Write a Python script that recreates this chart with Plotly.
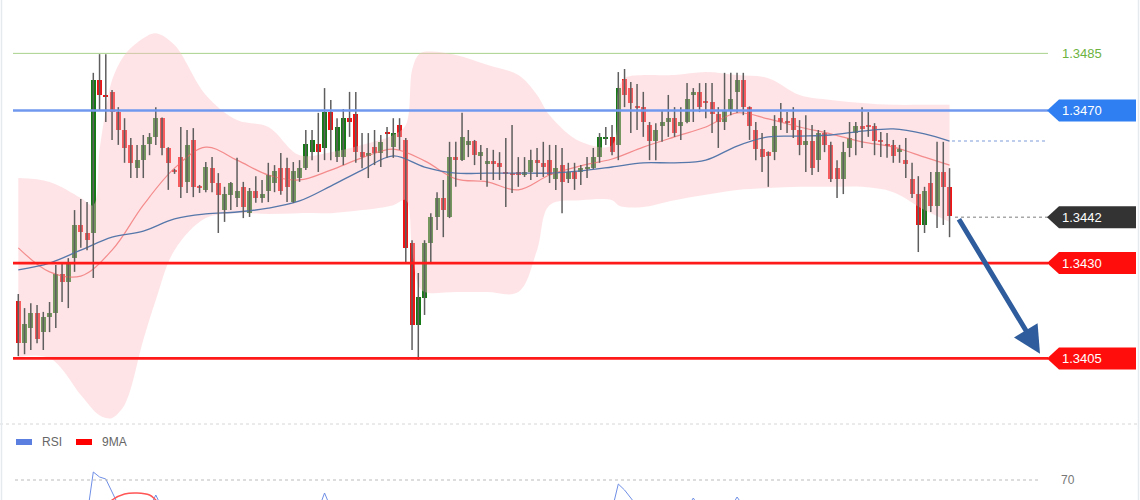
import plotly.graph_objects as go

# ---------------- data ----------------
opens = [1.34200,1.34090,1.34130,1.34169,1.34119,1.34159,1.34169,1.34271,1.34250,1.34313,
         1.34400,1.34379,1.34379,1.34780,1.34741,1.34749,1.34696,1.34649,1.34610,1.34549,
         1.34570,1.34612,1.34631,1.34680,1.34602,1.34542,1.34578,1.34513,1.34623,1.34500,
         1.34492,1.34549,1.34510,1.34439,1.34479,1.34471,1.34500,1.34431,1.34489,1.34471,
         1.34489,1.34510,1.34549,1.34549,1.34460,1.34523,1.34549,1.34591,1.34612,1.34602,
         1.34696,1.34578,1.34578,1.34680,1.34691,1.34591,1.34581,1.34604,1.34589,1.34641,
         1.34604,1.34662,1.34623,1.34353,1.34138,1.34208,1.34353,1.34421,1.34471,1.34421,
         1.34578,1.34570,1.34610,1.34620,1.34581,1.34560,1.34568,1.34563,1.34536,1.34534,
         1.34539,1.34531,1.34539,1.34570,1.34563,1.34570,1.34521,1.34557,1.34521,1.34539,
         1.34539,1.34547,1.34549,1.34578,1.34628,1.34631,1.34610,1.34783,1.34759,1.34709,
         1.34709,1.34662,1.34620,1.34659,1.34670,1.34680,1.34659,1.34670,1.34741,1.34749,
         1.34722,1.34722,1.34691,1.34670,1.34701,1.34749,1.34780,1.34709,1.34649,1.34599,
         1.34591,1.34591,1.34680,1.34670,1.34680,1.34649,1.34610,1.34620,1.34570,1.34641,
         1.34610,1.34549,1.34521,1.34602,1.34641,1.34659,1.34659,1.34659,1.34620,1.34610,
         1.34610,1.34591,1.34570,1.34521,1.34481,1.34400,1.34510,1.34450,1.34539,1.34500]
highs = [1.34219,1.34182,1.34195,1.34190,1.34172,1.34198,1.34295,1.34300,1.34313,1.34439,
         1.34468,1.34460,1.34799,1.34848,1.34848,1.34754,1.34709,1.34680,1.34628,1.34610,
         1.34636,1.34641,1.34709,1.34682,1.34604,1.34547,1.34657,1.34649,1.34654,1.34505,
         1.34565,1.34578,1.34536,1.34500,1.34513,1.34576,1.34513,1.34497,1.34528,1.34518,
         1.34563,1.34557,1.34589,1.34576,1.34565,1.34570,1.34649,1.34649,1.34694,1.34759,
         1.34728,1.34680,1.34704,1.34749,1.34749,1.34641,1.34641,1.34649,1.34636,1.34657,
         1.34680,1.34680,1.34628,1.34360,1.34274,1.34360,1.34431,1.34486,1.34518,1.34618,
         1.34618,1.34694,1.34649,1.34623,1.34610,1.34602,1.34597,1.34591,1.34628,1.34662,
         1.34578,1.34578,1.34597,1.34602,1.34618,1.34610,1.34610,1.34602,1.34563,1.34563,
         1.34557,1.34578,1.34602,1.34641,1.34657,1.34662,1.34801,1.34809,1.34775,1.34770,
         1.34749,1.34670,1.34667,1.34701,1.34741,1.34709,1.34709,1.34772,1.34759,1.34772,
         1.34772,1.34772,1.34709,1.34799,1.34799,1.34799,1.34799,1.34711,1.34670,1.34641,
         1.34593,1.34688,1.34720,1.34696,1.34709,1.34675,1.34688,1.34662,1.34649,1.34649,
         1.34618,1.34570,1.34618,1.34670,1.34670,1.34709,1.34696,1.34667,1.34644,1.34641,
         1.34623,1.34610,1.34628,1.34563,1.34528,1.34500,1.34539,1.34618,1.34618,1.34549]
lows = [1.34056,1.34061,1.34072,1.34090,1.34072,1.34119,1.34130,1.34198,1.34182,1.34277,
        1.34340,1.34334,1.34261,1.34701,1.34670,1.34623,1.34610,1.34563,1.34523,1.34523,
        1.34523,1.34583,1.34610,1.34583,1.34492,1.34534,1.34471,1.34484,1.34473,1.34484,
        1.34486,1.34486,1.34379,1.34408,1.34439,1.34447,1.34418,1.34421,1.34458,1.34458,
        1.34460,1.34486,1.34479,1.34460,1.34458,1.34513,1.34544,1.34570,1.34539,1.34570,
        1.34570,1.34565,1.34557,1.34631,1.34563,1.34549,1.34523,1.34557,1.34552,1.34576,
        1.34576,1.34597,1.34303,1.34072,1.34046,1.34164,1.34300,1.34387,1.34368,1.34418,
        1.34500,1.34568,1.34578,1.34557,1.34518,1.34500,1.34518,1.34518,1.34447,1.34484,
        1.34500,1.34526,1.34518,1.34526,1.34526,1.34510,1.34492,1.34431,1.34510,1.34492,
        1.34505,1.34523,1.34547,1.34563,1.34610,1.34583,1.34570,1.34709,1.34641,1.34649,
        1.34631,1.34570,1.34570,1.34618,1.34631,1.34631,1.34623,1.34667,1.34670,1.34696,
        1.34680,1.34641,1.34602,1.34649,1.34688,1.34694,1.34688,1.34623,1.34570,1.34539,
        1.34500,1.34570,1.34649,1.34641,1.34628,1.34583,1.34539,1.34531,1.34539,1.34591,
        1.34513,1.34471,1.34481,1.34578,1.34583,1.34602,1.34631,1.34583,1.34578,1.34576,
        1.34563,1.34563,1.34523,1.34471,1.34329,1.34379,1.34434,1.34392,1.34400,1.34368]
closes = [1.34090,1.34140,1.34169,1.34101,1.34159,1.34169,1.34271,1.34250,1.34300,1.34400,
          1.34381,1.34360,1.34780,1.34741,1.34738,1.34696,1.34649,1.34602,1.34563,1.34570,
          1.34610,1.34631,1.34680,1.34602,1.34563,1.34539,1.34500,1.34610,1.34500,1.34497,
          1.34552,1.34510,1.34479,1.34481,1.34510,1.34489,1.34447,1.34489,1.34471,1.34481,
          1.34531,1.34542,1.34489,1.34500,1.34542,1.34549,1.34612,1.34623,1.34591,1.34696,
          1.34649,1.34657,1.34680,1.34670,1.34591,1.34578,1.34589,1.34589,1.34618,1.34639,
          1.34641,1.34631,1.34340,1.34138,1.34211,1.34353,1.34421,1.34471,1.34439,1.34578,
          1.34570,1.34631,1.34620,1.34583,1.34591,1.34568,1.34560,1.34552,1.34535,1.34533,
          1.34531,1.34539,1.34570,1.34563,1.34552,1.34531,1.34549,1.34513,1.34539,1.34521,
          1.34549,1.34549,1.34578,1.34631,1.34631,1.34591,1.34759,1.34741,1.34720,1.34708,
          1.34670,1.34620,1.34649,1.34670,1.34680,1.34641,1.34670,1.34730,1.34749,1.34709,
          1.34721,1.34691,1.34670,1.34701,1.34730,1.34780,1.34709,1.34659,1.34599,1.34578,
          1.34581,1.34659,1.34670,1.34669,1.34649,1.34610,1.34620,1.34549,1.34641,1.34610,
          1.34521,1.34521,1.34591,1.34628,1.34659,1.34652,1.34658,1.34620,1.34619,1.34608,
          1.34581,1.34599,1.34560,1.34481,1.34400,1.34489,1.34450,1.34539,1.34500,1.34423]

# Bollinger band (sampled at candle indices)
band_idx = [0, 5, 10, 12, 13, 14, 15, 17, 20, 22, 25, 30, 35, 40, 45, 50, 55, 60, 62, 63, 64,
            65, 70, 75, 80, 83, 85, 90, 95, 96, 97, 100, 105, 110, 115, 120, 125, 130, 135,
            140, 145, 149]
band_upper = [1.34523, 1.34513, 1.34471, 1.34452, 1.34597, 1.34701, 1.34780, 1.34846, 1.34890,
              1.34903, 1.34872, 1.34741, 1.34675, 1.34657, 1.34583, 1.34591, 1.34610, 1.34636,
              1.34662, 1.34806, 1.34846, 1.34854, 1.34846, 1.34820, 1.34793, 1.34741, 1.34688,
              1.34618, 1.34610, 1.34754, 1.34785, 1.34793, 1.34793, 1.34801, 1.34793, 1.34785,
              1.34741, 1.34728, 1.34720, 1.34715, 1.34715, 1.34715]
band_lower = [1.34054, 1.34051, 1.33954, 1.33915, 1.33901, 1.33894, 1.33894, 1.33928, 1.34098,
              1.34203, 1.34334, 1.34418, 1.34431, 1.34429, 1.34431, 1.34431, 1.34439, 1.34452,
              1.34465, 1.34334, 1.34242, 1.34224, 1.34224, 1.34224, 1.34224, 1.34334, 1.34452,
              1.34465, 1.34465, 1.34452, 1.34447, 1.34447, 1.34465, 1.34479, 1.34492, 1.34497,
              1.34500, 1.34500, 1.34500, 1.34486, 1.34439, 1.34408]

ma_idx = [0, 5, 10, 15, 20, 25, 30, 35, 40, 45, 50, 55, 60, 65, 70, 75, 80, 85, 90, 95, 100,
          105, 110, 115, 120, 125, 130, 135, 140, 145, 149]
ma_red = [1.34340, 1.34277, 1.34266, 1.34334, 1.34452, 1.34549, 1.34604, 1.34570, 1.34531,
          1.34518, 1.34544, 1.34576, 1.34599, 1.34568, 1.34521, 1.34513, 1.34492, 1.34531,
          1.34555, 1.34573, 1.34604, 1.34631, 1.34657, 1.34694, 1.34678, 1.34657, 1.34639,
          1.34618, 1.34604, 1.34578, 1.34557]
ma_blue = [1.34282, 1.34300, 1.34334, 1.34368, 1.34384, 1.34416, 1.34429, 1.34434, 1.34444,
           1.34463, 1.34502, 1.34544, 1.34581, 1.34552, 1.34536, 1.34536, 1.34536, 1.34536,
           1.34542, 1.34552, 1.34563, 1.34563, 1.34570, 1.34607, 1.34631, 1.34633, 1.34636,
           1.34646, 1.34652, 1.34639, 1.34620]

levels = [1.3485, 1.3470, 1.3442, 1.3430, 1.3405]
level_labels = ["1.3485", "1.3470", "1.3442", "1.3430", "1.3405"]

# RSI panel (only the parts that rise into view)
rsi_idx = [11, 12, 13, 14, 15, 16, None, 21, 22, 23, None, 48, 49, 50, None,
           95, 96, 97, 98, 99, None, 107, 108, 109, None, 114, 115, 116]
rsi_val = [52, 74, 71.5, 70.5, 64, 57.5, None, 56, 62.5, 56, None, 55, 63.5, 56, None,
           55, 68, 65, 61.5, 57, None, 56, 61, 56, None, 56, 61.5, 57]
ma9_idx = [14, 15, 17, 19, 21, 22, 23]
ma9_val = [57, 60, 63, 63.5, 62.5, 60, 57]
rsi_level = 70

# ---------------- figure ----------------
W, H = 1140, 500
PX0, DX = 18.3, 6.25              # pixel of first candle, candle spacing
xr = [(0 - PX0) / DX, (W - PX0) / DX]
y_top, y_bot = 1.34990, 1.33878
split = 1 - 424 / H

def px(x):
    return x / W

def pyp(y):
    return 1 - y / H

idx = list(range(len(opens)))
GREEN, RED = "#167a16", "#f21414"

fig = go.Figure()

# Bollinger band
fig.add_trace(go.Scatter(x=band_idx, y=band_upper, mode="lines", line=dict(width=0, shape="spline"),
                         hoverinfo="skip", showlegend=False))
fig.add_trace(go.Scatter(x=band_idx, y=band_lower, mode="lines", line=dict(width=0, shape="spline"),
                         fill="tonexty", fillcolor="rgba(252,190,198,0.42)",
                         hoverinfo="skip", showlegend=False))
# moving averages
fig.add_trace(go.Scatter(x=ma_idx, y=ma_red, mode="lines",
                         line=dict(color="rgba(240,110,110,0.75)", width=1.2, shape="spline"),
                         showlegend=False))
fig.add_trace(go.Scatter(x=ma_idx, y=ma_blue, mode="lines",
                         line=dict(color="#5577aa", width=1.3, shape="spline"),
                         showlegend=False))

# wicks
wx, wy = [], []
for i in idx:
    wx += [i, i, None]
    wy += [lows[i], highs[i], None]
fig.add_trace(go.Scatter(x=wx, y=wy, mode="lines", line=dict(color="#5e5e5e", width=1.5),
                         hoverinfo="skip", showlegend=False))
# bodies
bases = [min(o, c) for o, c in zip(opens, closes)]
heights = [max(abs(c - o), 0.00003) for o, c in zip(opens, closes)]
colors = [GREEN if c >= o else RED for o, c in zip(opens, closes)]
fig.add_trace(go.Bar(x=idx, y=heights, base=bases, width=0.8, marker=dict(color=colors, line=dict(width=0)),
                     showlegend=False))

# RSI panel
fig.add_trace(go.Scatter(x=rsi_idx, y=rsi_val, mode="lines", line=dict(color="#6f8fe6", width=1),
                         xaxis="x2", yaxis="y2", showlegend=False, connectgaps=False))
fig.add_trace(go.Scatter(x=ma9_idx, y=ma9_val, mode="lines", line=dict(color="#ff5555", width=1.4, shape="spline"),
                         xaxis="x2", yaxis="y2", showlegend=False))

shapes = []
x_start, x_end = px(13), px(1048)
line_styles = {
    1.3485: dict(color="#a9d18e", width=1),
    1.3470: dict(color="#7098ee", width=2.5),
    1.3430: dict(color="#ff1a1a", width=2.8),
    1.3405: dict(color="#ff1a1a", width=2.8),
}
for lv, st in line_styles.items():
    shapes.append(dict(type="line", xref="paper", yref="y", x0=x_start, x1=x_end, y0=lv, y1=lv,
                       line=st, layer="below" if lv == 1.3485 else "above"))
# dotted guides
shapes.append(dict(type="line", xref="paper", yref="y", x0=px(955), x1=x_end, y0=levels[2], y1=levels[2],
                   line=dict(color="#a8a8a8", width=1.5, dash="dot")))
shapes.append(dict(type="line", xref="paper", yref="y", x0=px(952), x1=x_end, y0=ma_blue[-1], y1=ma_blue[-1],
                   line=dict(color="#a9bde6", width=1.5, dash="dot")))
# label boxes
hh = 11 / ((424) / (y_top - y_bot))
box_cols = {1.3470: "#2f7ff2", 1.3442: "#333333", 1.3430: "#ff0d0d", 1.3405: "#ff0d0d"}
for lv, col in box_cols.items():
    a, b, c = px(1047), px(1059), px(1136)
    path = (f"M {a},{lv} L {b},{lv + hh} L {c},{lv + hh} L {c},{lv - hh} L {b},{lv - hh} Z")
    shapes.append(dict(type="path", xref="paper", yref="y", path=path, fillcolor=col, line=dict(width=0)))
# panel separator and frame
shapes.append(dict(type="line", xref="paper", yref="paper", x0=0, x1=1, y0=split, y1=split,
                   line=dict(color="#d6d6d6", width=1, dash="dot")))
shapes.append(dict(type="line", xref="paper", yref="y2", x0=px(15), x1=px(1038), y0=rsi_level, y1=rsi_level,
                   line=dict(color="#bbbbbb", width=1, dash="dot")))
shapes.append(dict(type="line", xref="paper", yref="paper", x0=px(1.5), x1=px(1.5), y0=0, y1=1,
                   line=dict(color="#e4eaee", width=1.5)))
shapes.append(dict(type="line", xref="paper", yref="paper", x0=px(1138.5), x1=px(1138.5), y0=0, y1=1,
                   line=dict(color="#e4eaee", width=1.5)))
# legend markers
shapes.append(dict(type="rect", xref="paper", yref="paper", x0=px(16), x1=px(32), y0=pyp(445), y1=pyp(439),
                   fillcolor="#5b7fe0", line=dict(width=0)))
shapes.append(dict(type="rect", xref="paper", yref="paper", x0=px(76), x1=px(92), y0=pyp(445), y1=pyp(439),
                   fillcolor="#ff0000", line=dict(width=0)))

FONT = "Liberation Sans, Arial, sans-serif"
ann = []
label_cols = {1.3485: "#6cb33f", 1.3470: "white", 1.3442: "white", 1.3430: "white", 1.3405: "white"}
for lv, txt in zip(levels, level_labels):
    ann.append(dict(x=px(1082), y=lv, xref="paper", yref="y", text=txt, showarrow=False,
                    font=dict(family=FONT, size=13, color=label_cols[lv]), xanchor="center", yanchor="middle"))
ann.append(dict(x=px(1068), y=rsi_level, xref="paper", yref="y2", text=str(rsi_level), showarrow=False,
                font=dict(family=FONT, size=12, color="#777777"), xanchor="center", yanchor="middle"))
ann.append(dict(x=px(40), y=pyp(442), xref="paper", yref="paper", text="RSI", showarrow=False,
                font=dict(family=FONT, size=12, color="#666666"), xanchor="left", yanchor="middle"))
ann.append(dict(x=px(100), y=pyp(442), xref="paper", yref="paper", text="9MA", showarrow=False,
                font=dict(family=FONT, size=12, color="#666666"), xanchor="left", yanchor="middle"))
# forecast arrow
ann.append(dict(x=(1040 - PX0) / DX, y=1.34062, xref="x", yref="y",
                ax=(958 - PX0) / DX, ay=levels[2] - 0.00001, axref="x", ayref="y",
                showarrow=True, arrowhead=2, arrowsize=1.1, arrowwidth=5, arrowcolor="#2e5c9c", text=""))

fig.update_layout(
    width=W, height=H, margin=dict(l=0, r=0, t=0, b=0),
    paper_bgcolor="white", plot_bgcolor="white", showlegend=False, bargap=0,
    xaxis=dict(range=xr, domain=[0, 1], visible=False, anchor="y"),
    yaxis=dict(range=[y_bot, y_top], domain=[split, 1], visible=False, anchor="x"),
    xaxis2=dict(range=xr, domain=[0, 1], visible=False, anchor="y2", matches="x"),
    yaxis2=dict(range=[60, 98], domain=[0, split], visible=False, anchor="x2"),
    shapes=shapes, annotations=ann,
)

fig.write_html("out.html", config={"displayModeBar": False},
               post_script="document.body.style.margin='0';document.body.style.overflow='hidden';")
